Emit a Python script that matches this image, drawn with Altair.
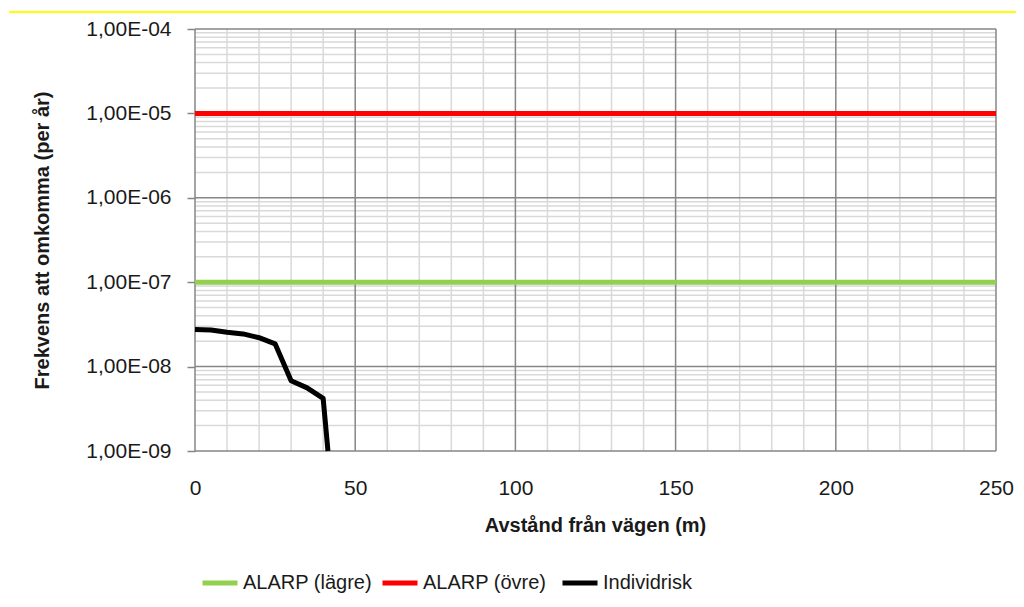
import altair as alt
import pandas as pd

# ---- data ----
dist_ind = [0, 5, 10, 15, 20, 25, 30, 35, 40, 41.5]
risk_ind = [2.75e-8, 2.72e-8, 2.55e-8, 2.44e-8, 2.2e-8, 1.86e-8, 6.8e-9, 5.6e-9, 4.2e-9, 1.0e-9]
alarp_x = [0, 250]
alarp_lower = [1e-7, 1e-7]
alarp_upper = [1e-5, 1e-5]
series_names = ["ALARP (lägre)", "ALARP (övre)", "Individrisk"]
series_colors = ["#92D050", "#FF0000", "#000000"]
x_major = [0, 50, 100, 150, 200, 250]
x_minor = [v for v in range(10, 250, 10) if v % 50 != 0]
y_major = [1e-9, 1e-8, 1e-7, 1e-6, 1e-5, 1e-4]
y_minor = [m * 10.0 ** k for k in range(-9, -4) for m in range(2, 10)]

rows = []
for x, y in zip(alarp_x, alarp_lower):
    rows.append({"x": x, "y": y, "serie": series_names[0], "o": 0})
for x, y in zip(alarp_x, alarp_upper):
    rows.append({"x": x, "y": y, "serie": series_names[1], "o": 1})
for x, y in zip(dist_ind, risk_ind):
    rows.append({"x": x, "y": y, "serie": series_names[2], "o": 2})
df = pd.DataFrame(rows)

FONT = "Liberation Sans"
TXT = "#1A1A1A"
xs = alt.Scale(domain=[0, 250], nice=False, zero=False)
ys = alt.Scale(type="log", domain=[1e-9, 1e-4], nice=False)

xaxis = alt.Axis(
    values=x_major, grid=False, domain=False, ticks=False, labelFlush=False,
    labelFont=FONT, labelFontSize=21, labelColor=TXT, labelPadding=26,
    title="Avstånd från vägen (m)", titleFont=FONT, titleFontSize=20,
    titleFontWeight="bold", titleColor=TXT,
    titleX=400, titleY=74, titleBaseline="middle", titleAlign="center")
yaxis = alt.Axis(
    values=y_major, grid=False, domain=False, ticks=True, tickSize=8,
    tickColor="#868686", tickWidth=1.5, labelFlush=False,
    labelExpr="'1,00E-0' + toString(round(-log(datum.value)/LN10))",
    labelFont=FONT, labelFontSize=21, labelColor=TXT, labelPadding=16,
    title="Frekvens att omkomma (per år)", titleFont=FONT, titleFontSize=20,
    titleFontWeight="bold", titleColor=TXT,
    titleX=-153, titleY=211, titleBaseline="middle", titleAlign="center", titleAngle=-90)

X = alt.X("x:Q", scale=xs, axis=xaxis)
Y = alt.Y("y:Q", scale=ys, axis=yaxis)

xminor = alt.Chart(pd.DataFrame({"x": x_minor})).mark_rule(color="#D9D9D9", strokeWidth=1.5).encode(x=X)
yminor = alt.Chart(pd.DataFrame({"y": y_minor})).mark_rule(color="#D9D9D9", strokeWidth=1.5).encode(y=Y)
xmajor = alt.Chart(pd.DataFrame({"x": x_major})).mark_rule(color="#868686", strokeWidth=1.5).encode(x=X)
ymajor = alt.Chart(pd.DataFrame({"y": y_major})).mark_rule(color="#868686", strokeWidth=1.5).encode(y=Y)

lines = alt.Chart(df).mark_line(strokeWidth=5, strokeJoin="round").encode(
    x=X, y=Y,
    color=alt.Color("serie:N", scale=alt.Scale(domain=series_names, range=series_colors),
                    legend=alt.Legend(
                        title=None, orient="none", direction="horizontal",
                        legendX=5, legendY=534, symbolType="stroke",
                        symbolSize=1225, symbolStrokeWidth=5,
                        labelFont=FONT, labelFontSize=20, labelColor=TXT,
                        labelOffset=3, gridAlign="all", columnPadding=0)),
    order="o:Q",
    detail="serie:N",
)

topline = alt.Chart(pd.DataFrame({"a": [0]})).mark_rule(color="#FFFF00", strokeWidth=2).encode(
    x=alt.value(-186), x2=alt.value(829), y=alt.value(-17))

chart = alt.layer(xminor, yminor, xmajor, ymajor, lines, topline).properties(
    width=801, height=422,
    autosize=alt.AutoSizeParams(type="none"),
    padding={"left": 187, "top": 21, "right": 20, "bottom": 160},
).configure_view(stroke=None)

chart.save("out.html", embed_options={"renderer": "svg", "actions": False})
